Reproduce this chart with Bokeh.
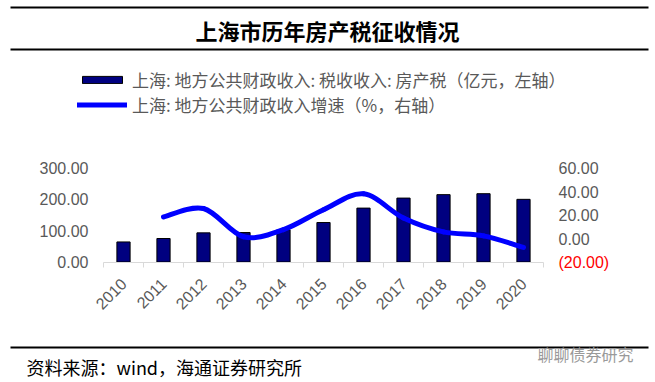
import math
from bokeh.plotting import figure
from bokeh.models import (Range1d, LinearAxis, FixedTicker, Label,
                          Legend, LegendItem, NumeralTickFormatter)
from bokeh.embed import file_html
from bokeh.resources import INLINE

# ---- data ----
years = ["2010", "2011", "2012", "2013", "2014", "2015", "2016", "2017", "2018", "2019", "2020"]
property_tax = [64, 75, 93, 94, 103, 126, 172, 204, 215, 218, 200]          # 亿元, left axis
revenue_growth = [None, 18.3, 25.5, 1.5, 7.6, 24.5, 38.0, 17.4, 5.6, 2.2, -7.6]  # %, right axis
left_ticks = [0, 100, 200, 300]
right_ticks = [0, 20, 40, 60]
right_neg_ticks = [-20]

title_text = "上海市历年房产税征收情况"
bar_label = "上海: 地方公共财政收入: 税收收入: 房产税（亿元，左轴）"
line_label = "上海: 地方公共财政收入增速（%，右轴）"
source_text = "资料来源：wind，海通证券研究所"
watermark_text = "聊聊债券研究"

# ---- layout (pixels on the 655x382 canvas) ----
W, H = 655, 382
FRAME_L, FRAME_R, FRAME_T, FRAME_B = 103, 543, 167.5, 261.5
AX_FONT = "Liberation Sans"
CJK = "Noto Sans CJK SC"
GRAY = "#595959"

n = len(years)
centers = [i + 0.5 for i in range(n)]
bounds = [float(i) for i in range(n + 1)]


def span_range(lo, hi, p_lo, p_hi, total, flip):
    """Range whose [lo, hi] data interval falls on pixels [p_lo, p_hi] of a canvas of size total."""
    scale = (p_hi - p_lo) / (hi - lo)
    if flip:  # vertical: pixel grows downward, data grows upward
        return Range1d(lo - (total - p_hi) / scale, hi + p_lo / scale)
    return Range1d(lo - p_lo / scale, hi + (total - p_hi) / scale)


p = figure(width=W, height=H, output_backend="svg", toolbar_location=None,
           x_range=span_range(0, n, FRAME_L, FRAME_R, W, False),
           y_range=span_range(left_ticks[0], left_ticks[-1], FRAME_T, FRAME_B, H, True),
           min_border=0, min_border_left=0, min_border_right=0,
           min_border_top=0, min_border_bottom=0,
           outline_line_color=None, background_fill_color="white", border_fill_color="white")
p.extra_y_ranges = {"right": span_range(right_neg_ticks[0], right_ticks[-1], FRAME_T, FRAME_B, H, True),
                    "px_y": Range1d(H, 0)}
p.extra_x_ranges = {"px_x": Range1d(0, W)}
p.xgrid.visible = False
p.ygrid.visible = False

# x axis
xa = p.xaxis[0]
xa.fixed_location = left_ticks[0]
xa.bounds = (0, n)
xa.ticker = FixedTicker(ticks=centers, minor_ticks=bounds)
xa.major_label_overrides = {c: y for c, y in zip(centers, years)}
xa.axis_line_color = "#d9d9d9"
xa.major_tick_line_color = None
xa.major_tick_out = 0
xa.major_tick_in = 0
xa.minor_tick_line_color = "#d9d9d9"
xa.minor_tick_out = 5
xa.minor_tick_in = 0
xa.major_label_orientation = math.pi / 4
xa.major_label_standoff = 14
xa.major_label_text_font = AX_FONT
xa.major_label_text_font_size = "16px"
xa.major_label_text_color = GRAY


def style_y(ax, color=GRAY):
    ax.axis_line_color = None
    ax.major_tick_line_color = None
    ax.minor_tick_line_color = None
    ax.major_tick_out = 0
    ax.major_tick_in = 0
    ax.major_label_standoff = 15
    ax.major_label_text_font = AX_FONT
    ax.major_label_text_font_size = "16px"
    ax.major_label_text_color = color


ya = p.yaxis[0]
ya.fixed_location = 0
ya.ticker = FixedTicker(ticks=left_ticks)
ya.formatter = NumeralTickFormatter(format="0.00")
style_y(ya)

ra = LinearAxis(y_range_name="right", ticker=FixedTicker(ticks=right_ticks),
                formatter=NumeralTickFormatter(format="0.00"), fixed_location=n)
style_y(ra)
p.add_layout(ra, "right")

rn = LinearAxis(y_range_name="right", ticker=FixedTicker(ticks=right_neg_ticks),
                formatter=NumeralTickFormatter(format="(0.00)"), fixed_location=n)
style_y(rn, "#FF0000")
p.add_layout(rn, "right")

# bars
bars = p.vbar(x=centers, top=property_tax, width=0.33, fill_color="#000080",
              line_color="black", line_width=1)

# smoothed growth line: cubic bezier segments through the data points
gx = [c for c, g in zip(centers, revenue_growth) if g is not None]
gy = [g for g in revenue_growth if g is not None]
m = len(gx)
seg = dict(x0=[], y0=[], x1=[], y1=[], cx0=[], cy0=[], cx1=[], cy1=[])
for i in range(m - 1):
    a = max(i - 1, 0)
    b = min(i + 2, m - 1)
    seg["x0"].append(gx[i]); seg["y0"].append(gy[i])
    seg["x1"].append(gx[i + 1]); seg["y1"].append(gy[i + 1])
    seg["cx0"].append(gx[i] + (gx[i + 1] - gx[a]) / 6)
    seg["cy0"].append(gy[i] + (gy[i + 1] - gy[a]) / 6)
    seg["cx1"].append(gx[i + 1] - (gx[b] - gx[i]) / 6)
    seg["cy1"].append(gy[i + 1] - (gy[b] - gy[i]) / 6)
curve = p.bezier(y_range_name="right", line_color="#0000FF", line_width=5,
                 line_cap="round", **seg)

# legend: top-left corner near (77, 72) on the canvas (location counts from the bottom-left)
legend = Legend(items=[LegendItem(label=bar_label, renderers=[bars]),
                       LegendItem(label=line_label, renderers=[curve])],
                location=(77, 265), orientation="vertical",
                border_line_color=None, background_fill_alpha=0,
                padding=0, margin=0, spacing=-5,
                glyph_width=50, glyph_height=9, label_height=19, label_standoff=5,
                label_text_font=CJK, label_text_font_size="17px",
                label_text_color=GRAY)
p.add_layout(legend, "center")

# ---- page decorations, in canvas pixels ----
p.quad(left=[10, 10, 10], right=[648, 648, 648], top=[6, 48, 346], bottom=[8, 50, 348],
       x_range_name="px_x", y_range_name="px_y", fill_color="black", line_color=None)
p.add_layout(Label(x=327, y=29.5, x_range_name="px_x", y_range_name="px_y",
                   text=title_text, text_align="center", text_baseline="middle",
                   text_font=CJK, text_font_size="22px", text_font_style="bold",
                   text_color="black"))
p.add_layout(Label(x=26, y=366, x_range_name="px_x", y_range_name="px_y",
                   text=source_text, text_align="left", text_baseline="middle",
                   text_font=CJK, text_font_size="18px", text_color="black"))
p.add_layout(Label(x=537, y=353, x_range_name="px_x", y_range_name="px_y",
                   text=watermark_text, text_align="left", text_baseline="middle",
                   text_font=CJK, text_font_size="16px", text_color="#9a9a9a"))

open("out.html", "w").write(file_html(p, INLINE))
